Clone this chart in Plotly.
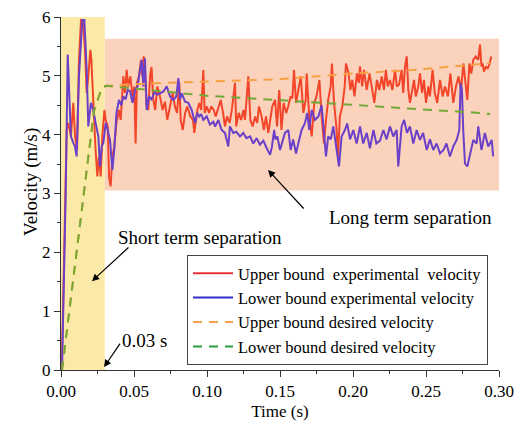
import plotly.graph_objects as go

# ---------------- data ----------------
t_upper_exp = [0.0005, 0.0022, 0.0039, 0.0050, 0.0068, 0.0084, 0.0096, 0.0110, 0.0123, 0.0137,
               0.0151, 0.0164, 0.0176, 0.0187, 0.0201, 0.0208, 0.0221, 0.0237, 0.0249, 0.0260,
               0.0272, 0.0283, 0.0297, 0.0306, 0.0320, 0.0329, 0.0340, 0.0352, 0.0365, 0.0380,
               0.0397, 0.0409, 0.0427, 0.0438, 0.0450, 0.0460, 0.0475, 0.0490, 0.0502, 0.0511,
               0.0520, 0.0534, 0.0548, 0.0557, 0.0566, 0.0575, 0.0587, 0.0598, 0.0610, 0.0620,
               0.0632, 0.0645, 0.0660, 0.0678, 0.0696, 0.0712, 0.0728, 0.0745, 0.0765, 0.0780,
               0.0795, 0.0810, 0.0820, 0.0834, 0.0850, 0.0865, 0.0886, 0.0904, 0.0913, 0.0934,
               0.0947, 0.0960, 0.0975, 0.0984, 0.0998, 0.1014, 0.1030, 0.1046, 0.1060, 0.1073,
               0.1094, 0.1110, 0.1123, 0.1137, 0.1155, 0.1170, 0.1192, 0.1200, 0.1217, 0.1233,
               0.1250, 0.1260, 0.1283, 0.1297, 0.1313, 0.1330, 0.1344, 0.1356, 0.1374, 0.1390,
               0.1404, 0.1420, 0.1432, 0.1447, 0.1466, 0.1480, 0.1495, 0.1510, 0.1525, 0.1543,
               0.1558, 0.1573, 0.1585, 0.1596, 0.1610, 0.1625, 0.1642, 0.1660, 0.1676, 0.1683,
               0.1700, 0.1717, 0.1735, 0.1750, 0.1770, 0.1785, 0.1801, 0.1815, 0.1830, 0.1847,
               0.1856, 0.1870, 0.1886, 0.1897, 0.1910, 0.1927, 0.1943, 0.1952, 0.1970, 0.1982,
               0.1995, 0.2010, 0.2027, 0.2040, 0.2048, 0.2063, 0.2075, 0.2094, 0.2113, 0.2128,
               0.2146, 0.2164, 0.2180, 0.2197, 0.2212, 0.2225, 0.2238, 0.2253, 0.2270, 0.2288,
               0.2300, 0.2315, 0.2333, 0.2344, 0.2356, 0.2368, 0.2379, 0.2390, 0.2404, 0.2418,
               0.2430, 0.2447, 0.2459, 0.2473, 0.2486, 0.2500, 0.2516, 0.2527, 0.2545, 0.2560,
               0.2577, 0.2596, 0.2614, 0.2630, 0.2650, 0.2667, 0.2687, 0.2705, 0.2723, 0.2740,
               0.2756, 0.2770, 0.2783, 0.2797, 0.2810, 0.2824, 0.2840, 0.2858, 0.2870, 0.2880,
               0.2888, 0.2897, 0.2910, 0.2922, 0.2935, 0.2947]
v_upper_exp = [0.00, 2.00, 4.08, 4.20, 3.97, 4.54, 3.97, 3.74, 5.27, 5.95,
               5.95, 5.44, 4.71, 4.99, 5.44, 5.27, 4.54, 3.74, 3.29, 3.63,
               3.29, 3.97, 4.42, 4.25, 4.14, 3.29, 3.12, 3.63, 3.80, 4.20,
               4.42, 4.25, 4.99, 4.71, 5.10, 4.82, 4.99, 4.65, 4.82, 3.85,
               4.88, 4.99, 5.27, 4.99, 5.33, 5.04, 4.48, 4.42, 4.99, 5.15,
               4.60, 4.42, 4.82, 4.65, 4.42, 4.56, 4.25, 4.48, 4.71, 4.48,
               4.37, 4.88, 4.25, 4.08, 4.37, 4.48, 4.31, 4.25, 4.03, 4.42,
               4.54, 4.42, 5.10, 4.37, 4.48, 4.37, 4.48, 4.42, 4.31, 4.42,
               4.59, 4.37, 4.14, 4.31, 4.20, 4.42, 4.88, 4.14, 4.37, 4.25,
               4.42, 4.25, 4.99, 4.25, 4.14, 4.31, 4.20, 4.48, 4.31, 4.08,
               4.31, 4.03, 4.20, 4.48, 4.59, 4.14, 4.76, 4.08, 4.54, 4.37,
               4.50, 4.65, 4.62, 5.10, 4.54, 4.76, 4.99, 4.37, 4.59, 5.04,
               4.31, 3.97, 4.54, 4.65, 4.93, 4.31, 3.85, 4.25, 4.59, 4.82,
               5.21, 4.54, 4.14, 3.63, 4.31, 4.48, 4.82, 5.21, 5.04, 4.76,
               4.93, 4.65, 5.04, 4.88, 5.16, 4.82, 5.10, 4.76, 5.04, 4.82,
               4.54, 4.93, 4.76, 4.99, 4.76, 5.10, 4.82, 4.93, 4.76, 5.10,
               4.82, 4.85, 5.10, 4.71, 5.16, 5.33, 4.76, 4.54, 4.76, 4.93,
               4.65, 4.82, 5.04, 4.71, 4.93, 4.54, 4.82, 4.65, 5.10, 4.71,
               4.54, 4.93, 4.65, 4.82, 4.65, 5.04, 4.54, 4.82, 4.99, 4.76,
               5.21, 4.93, 4.59, 5.21, 5.04, 5.27, 5.33, 5.27, 5.53, 5.16,
               5.21, 5.07, 5.16, 5.12, 5.20, 5.33]

t_lower_exp = [0.0007, 0.0032, 0.0046, 0.0068, 0.0084, 0.0095, 0.0107, 0.0123, 0.0146, 0.0160,
               0.0176, 0.0187, 0.0205, 0.0221, 0.0237, 0.0256, 0.0267, 0.0279, 0.0290, 0.0306,
               0.0320, 0.0336, 0.0352, 0.0365, 0.0380, 0.0397, 0.0413, 0.0427, 0.0443, 0.0457,
               0.0473, 0.0490, 0.0507, 0.0525, 0.0541, 0.0553, 0.0564, 0.0575, 0.0587, 0.0603,
               0.0620, 0.0640, 0.0660, 0.0678, 0.0700, 0.0724, 0.0747, 0.0769, 0.0790, 0.0804,
               0.0815, 0.0827, 0.0850, 0.0872, 0.0895, 0.0918, 0.0934, 0.0947, 0.0960, 0.0975,
               0.0998, 0.1020, 0.1043, 0.1055, 0.1078, 0.1100, 0.1123, 0.1146, 0.1157, 0.1180,
               0.1200, 0.1226, 0.1249, 0.1270, 0.1295, 0.1317, 0.1340, 0.1363, 0.1386, 0.1409,
               0.1432, 0.1445, 0.1460, 0.1468, 0.1482, 0.1500, 0.1518, 0.1534, 0.1557, 0.1573,
               0.1590, 0.1610, 0.1625, 0.1648, 0.1670, 0.1687, 0.1700, 0.1717, 0.1740, 0.1763,
               0.1785, 0.1800, 0.1815, 0.1830, 0.1848, 0.1865, 0.1888, 0.1904, 0.1922, 0.1945,
               0.1960, 0.1980, 0.2002, 0.2025, 0.2048, 0.2070, 0.2094, 0.2116, 0.2140, 0.2160,
               0.2185, 0.2208, 0.2230, 0.2253, 0.2276, 0.2299, 0.2310, 0.2333, 0.2350, 0.2370,
               0.2390, 0.2413, 0.2436, 0.2459, 0.2480, 0.2505, 0.2527, 0.2550, 0.2573, 0.2596,
               0.2620, 0.2640, 0.2664, 0.2687, 0.2710, 0.2728, 0.2737, 0.2746, 0.2755, 0.2767,
               0.2783, 0.2800, 0.2824, 0.2847, 0.2858, 0.2880, 0.2903, 0.2926, 0.2950, 0.2960]
v_lower_exp = [0.00, 2.95, 5.36, 3.97, 3.86, 3.80, 3.63, 4.99, 5.95, 5.95,
               5.10, 4.14, 4.54, 4.42, 4.20, 3.97, 3.46, 3.80, 3.86, 4.20,
               4.08, 3.90, 3.40, 3.75, 4.37, 4.59, 4.50, 4.65, 4.60, 4.76,
               4.74, 4.54, 4.76, 4.82, 5.10, 5.27, 4.82, 5.30, 4.42, 4.65,
               4.60, 4.72, 4.68, 4.70, 4.73, 4.82, 4.65, 4.59, 4.65, 4.96,
               4.60, 4.70, 4.56, 4.54, 4.42, 4.20, 4.37, 4.31, 4.35, 4.25,
               4.31, 4.17, 4.22, 4.14, 4.25, 4.08, 4.03, 3.80, 4.14, 4.03,
               4.05, 3.97, 4.03, 3.94, 3.97, 3.85, 3.94, 3.83, 3.90, 3.77,
               3.66, 3.80, 4.08, 3.92, 3.97, 3.74, 3.92, 4.03, 4.08, 3.74,
               3.92, 3.68, 3.85, 4.08, 4.19, 4.37, 4.08, 4.42, 4.25, 4.31,
               4.50, 4.08, 3.63, 3.97, 3.92, 4.14, 3.74, 3.46, 3.97, 4.08,
               4.19, 3.92, 4.08, 3.85, 4.14, 3.85, 4.03, 3.77, 4.08, 3.85,
               3.90, 4.08, 3.92, 4.14, 3.97, 4.08, 3.46, 4.14, 4.25, 4.03,
               4.14, 3.85, 4.08, 3.91, 4.03, 3.74, 3.92, 3.74, 3.85, 3.68,
               3.74, 3.85, 3.63, 3.80, 3.91, 4.08, 4.87, 4.76, 4.08, 3.51,
               3.46, 3.63, 3.91, 3.85, 4.14, 3.74, 4.03, 3.80, 3.91, 3.63]

t_upper_des = [0.0007, 0.0150, 0.0226, 0.0280, 0.0310, 0.0600, 0.1000, 0.1477, 0.2000, 0.2410, 0.2870, 0.2940]
v_upper_des = [0.00, 2.90, 4.40, 4.80, 4.83, 4.87, 4.90, 4.94, 5.04, 5.10, 5.20, 5.22]

t_lower_des = [0.0007, 0.0150, 0.0226, 0.0280, 0.0310, 0.0600, 0.1000, 0.1477, 0.2116, 0.2410, 0.2870, 0.2940]
v_lower_des = [0.00, 2.90, 4.40, 4.80, 4.83, 4.76, 4.66, 4.59, 4.48, 4.44, 4.37, 4.35]

series_names = ["Upper bound\u00a0\u00a0experimental\u00a0\u00a0velocity",
                "Lower bound experimental velocity",
                "Upper bound desired velocity",
                "Lower bound desired velocity"]

FONT = "Liberation Serif"

fig = go.Figure()

fig.add_trace(go.Scatter(x=t_upper_exp, y=v_upper_exp, mode="lines",
                         line=dict(color="#F2452A", width=2), showlegend=False))
fig.add_trace(go.Scatter(x=t_lower_exp, y=v_lower_exp, mode="lines",
                         line=dict(color="#6A40C8", width=2), showlegend=False))
fig.add_trace(go.Scatter(x=t_upper_des, y=v_upper_des, mode="lines",
                         line=dict(color="#F5A043", width=2, dash="9px,7px"), showlegend=False))
fig.add_trace(go.Scatter(x=t_lower_des, y=v_lower_des, mode="lines",
                         line=dict(color="#72A835", width=2, dash="9px,7px"), showlegend=False))

legend_styles = [("#E8303A", "solid"), ("#2E2EC8", "solid"),
                 ("#F2A04A", "9px,7px"), ("#2A9A3A", "9px,7px")]
for name, (col, dash) in zip(series_names, legend_styles):
    fig.add_trace(go.Scatter(x=[None], y=[None], mode="lines", name=name,
                             line=dict(color=col, width=2, dash=dash)))

fig.add_shape(type="rect", x0=0, x1=0.03, y0=0, y1=6, xref="x", yref="y",
              fillcolor="#FBEAA7", line=dict(width=0), layer="below")
fig.add_shape(type="rect", x0=0.03, x1=0.3, y0=3.05, y1=5.63, xref="x", yref="y",
              fillcolor="#FBD3BD", line=dict(width=0), layer="below")

ann_font = dict(family=FONT, size=19, color="black")
fig.add_annotation(x=0.0952, y=2.26, text="Short term separation", showarrow=False, font=ann_font)
fig.add_annotation(x=0.2397, y=2.585, text="Long term separation", showarrow=False, font=ann_font)
fig.add_annotation(x=0.0575, y=0.51, text="0.03 s", showarrow=False, font=ann_font)
arrow = dict(showarrow=True, arrowhead=2, arrowsize=1.2, arrowwidth=1.2, arrowcolor="black", text="")
fig.add_annotation(x=0.0212, y=1.51, ax=38, ay=-35, **arrow)
fig.add_annotation(x=0.1418, y=3.40, ax=37, ay=40, **arrow)
fig.add_annotation(x=0.0295, y=0.05, ax=17, ay=-25, **arrow)

# y-axis title (placed as rotated text, as in the reference)
fig.add_annotation(x=-0.098, y=0.533, xref="paper", yref="paper", text="Velocity (m/s)",
                   textangle=-90, showarrow=False,
                   font=dict(family=FONT, size=19, color="black"))

axis_common = dict(showline=True, linecolor="#333333", linewidth=1, ticks="outside",
                   ticklen=6, tickwidth=1, tickcolor="#333333", showgrid=False, zeroline=False,
                   automargin=False, ticklabeloverflow="allow",
                   tickfont=dict(family=FONT, size=17, color="black"))
fig.update_xaxes(range=[0, 0.3], dtick=0.05, tickformat=".2f",
                 minor=dict(dtick=0.025, ticks="outside", ticklen=3, tickcolor="#333333"),
                 title=dict(text="Time (s)", font=dict(family=FONT, size=17, color="black"), standoff=6),
                 **axis_common)
fig.update_yaxes(range=[0, 6], dtick=1,
                 minor=dict(dtick=0.5, ticks="outside", ticklen=3, tickcolor="#333333"),
                 **axis_common)

fig.update_layout(
    width=514, height=421,
    margin=dict(l=61, r=15, t=17, b=51, autoexpand=False),
    plot_bgcolor="white", paper_bgcolor="white",
    font=dict(family=FONT),
    legend=dict(x=0.2877, y=0.326, xanchor="left", yanchor="top",
                bgcolor="white", bordercolor="#444444", borderwidth=1,
                font=dict(family=FONT, size=16.5, color="black"),
                tracegroupgap=0, itemwidth=40),
)

fig.write_html("out.html")
